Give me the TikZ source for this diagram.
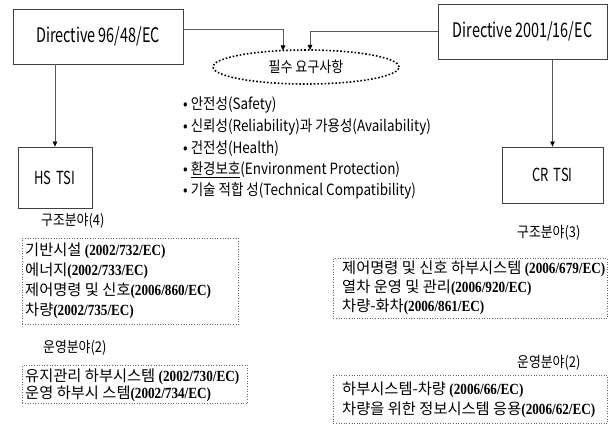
\documentclass[tikz,border=0pt]{standalone}
\usepackage{fontspec}
\setmainfont{Noto Sans CJK KR}[FakeStretch=0.87]
\newfontfamily\narrowfont{Noto Sans CJK KR}[FakeStretch=0.72]
\newfontfamily\wideboxfont{Noto Sans CJK KR}
\newfontfamily\ecodefont{Liberation Serif}[FakeStretch=0.85]
\usetikzlibrary{arrows.meta,shapes.geometric}
\newcommand\ecode[1]{{\ecodefont\bfseries\fontsize{15.5}{17}\selectfont #1}}
\tikzset{
  mainbox/.style={draw=black!75, line width=0.8pt, rectangle, inner sep=0pt},
  conn/.style={draw=black!65, line width=0.8pt, -{Triangle[length=5pt,width=4.5pt,color=black]}},
  dotbox/.style={draw=black!60, dotted, line width=0.6pt, rectangle, inner sep=0pt, anchor=north west},
  reqell/.style={ellipse, draw=black, dotted, line width=1.6pt, minimum width=186pt, minimum height=34pt, inner sep=0pt},
  txt/.style={inner sep=0pt, anchor=west, font=\fontsize{15.5}{17}\selectfont},
  boxtxt/.style={inner sep=0pt, anchor=west, font=\wideboxfont\fontsize{15.3}{17}\selectfont},
  lbl/.style={inner sep=0pt, font=\fontsize{14.8}{17}\selectfont},
}
\begin{document}
\begin{tikzpicture}[x=1pt,y=-1pt]
\useasboundingbox[fill=white] (0,0) rectangle (611,425);

% top boxes
\node[mainbox, minimum width=170pt, minimum height=55pt, font=\narrowfont\fontsize{20}{22}\selectfont] (d1) at (98,36.5) {Directive 96/48/EC};
\node[mainbox, minimum width=169pt, minimum height=55pt, font=\narrowfont\fontsize{20}{22}\selectfont] (d2) at (522.5,31.5) {Directive 2001/16/EC};

% ellipse
\node[reqell, font=\fontsize{15}{17}\selectfont] (req) at (306,67) {필수 요구사항};
\coordinate (e1) at (283,50.5);
\coordinate (e2) at (310,50);

% TSI boxes
\node[mainbox, minimum width=74pt, minimum height=61pt, font=\narrowfont\fontsize{18}{20}\selectfont] (hs) at (55,177.5) {HS\hspace{5pt}TSI};
\node[mainbox, minimum width=101pt, minimum height=56pt, font=\narrowfont\fontsize{18}{20}\selectfont] (cr) at (552.5,175) {CR\hspace{5pt}TSI};

% connectors
\draw[conn] ([yshift=7.5pt]d1.east) -| (e1);
\draw[conn] (d2.west) -| (e2);
\draw[conn] (d1.south -| hs.north) -- (hs.north);
\draw[conn] (d2.south -| cr.north) -- (cr.north);

% requirements list
\node[txt] (r1) at (183,105) {• 안전성(Safety)};
\node[txt] (r2) at (183,127) {• 신뢰성(Reliability)과 가용성(Availability)};
\node[txt] (r3) at (183,149) {• 건전성(Health)};
\node[txt] (r4) at (183,170) {• \underline{환경보호}(Environment Protection)};
\node[txt] (r5) at (183,191) {• 기술 적합 성(Technical Compatibility)};

% left: structural
\node[lbl, anchor=west] (l1) at (41,221) {구조분야(4)};
\node[dotbox, minimum width=216pt, minimum height=86pt] (b1) at (22,238) {};
\node[boxtxt] at (25,251) {기반시설 \ecode{(2002/732/EC)}};
\node[boxtxt] at (25,271) {에너지\ecode{(2002/733/EC)}};
\node[boxtxt] at (25,291) {제어명령 및 신호\ecode{(2006/860/EC)}};
\node[boxtxt] at (25,311) {차량\ecode{(2002/735/EC)}};

% left: operational
\node[lbl, anchor=west] (l2) at (43,348) {운영분야(2)};
\node[dotbox, minimum width=225pt, minimum height=38pt] (b2) at (22,365) {};
\node[boxtxt] at (25,377) {유지관리 하부시스템 \ecode{(2002/730/EC)}};
\node[boxtxt] at (25,394) {운영 하부시 스템\ecode{(2002/734/EC)}};

% right: structural
\node[lbl, anchor=west] (l3) at (517,233) {구조분야(3)};
\node[dotbox, minimum width=274pt, minimum height=60pt] (b3) at (333,258) {};
\node[boxtxt] at (342,269) {제어명령 및 신호 하부시스템 \ecode{(2006/679/EC)}};
\node[boxtxt] at (342,288) {열차 운영 및 관리\ecode{(2006/920/EC)}};
\node[boxtxt] at (342,307) {차량-화차\ecode{(2006/861/EC)}};

% right: operational
\node[lbl, anchor=west] (l4) at (517,363) {운영분야(2)};
\node[dotbox, minimum width=274pt, minimum height=48pt] (b4) at (333,375) {};
\node[boxtxt] at (342,390) {하부시스템-차량 \ecode{(2006/66/EC)}};
\node[boxtxt] at (342,410) {차량을 위한 정보시스템 응용\ecode{(2006/62/EC)}};
\end{tikzpicture}
\end{document}
